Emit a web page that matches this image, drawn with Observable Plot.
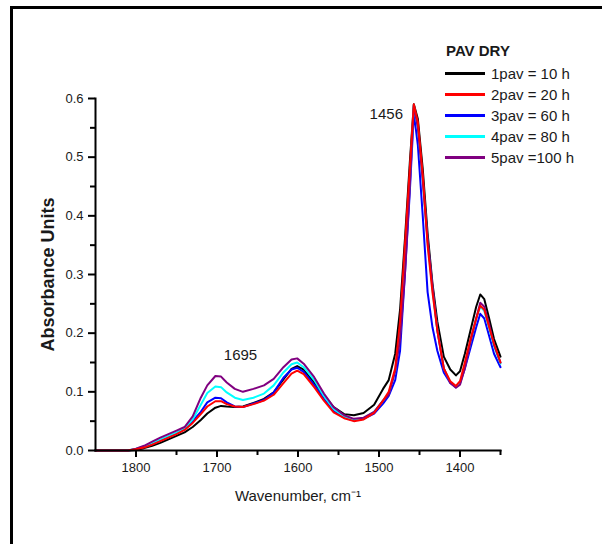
<!DOCTYPE html>
<html>
<head>
<meta charset="utf-8">
<script src="https://cdn.jsdelivr.net/npm/d3@7"></script>
<script src="https://cdn.jsdelivr.net/npm/@observablehq/plot@0.6"></script>
<style>
  html, body { margin: 0; padding: 0; background: #fff; }
  #wrap { position: relative; width: 602px; height: 544px; overflow: hidden; font-family: "Liberation Sans", Arial, sans-serif; color: #1a1a1a; }
  #border { position: absolute; left: 10px; top: 6px; width: 800px; height: 800px; border: 3px solid #000; box-sizing: border-box; pointer-events: none; }
  #chart { position: absolute; left: 0; top: 0; }
  #legend { position: absolute; left: 445px; top: 39px; font-size: 15px; }
  #legend .title { font-weight: bold; height: 24px; line-height: 24px; margin-left: 1px; }
  #legend .row { display: flex; align-items: center; height: 21px; }
  #legend .sw { width: 40px; height: 2.5px; margin-right: 6px; }
</style>
</head>
<body>
<div id="wrap">
  <div id="chart"></div>
  <div id="legend"></div>
  <div id="border"></div>
</div>
<script>
// ---- data ----
const wavenumbers = [1850, 1810, 1800, 1790, 1780, 1770, 1760, 1750, 1740, 1730, 1720, 1712, 1702, 1695, 1688, 1678, 1668, 1655, 1642, 1630, 1618, 1608, 1601, 1593, 1580, 1568, 1556, 1543, 1531, 1519, 1506, 1495, 1488, 1480, 1474, 1468, 1462, 1457, 1452, 1446, 1440, 1434, 1428, 1420, 1412, 1405, 1400, 1394, 1387, 1380, 1375, 1370, 1364, 1358, 1350];

const pav1 = [0, 0, 0.001, 0.004, 0.008, 0.013, 0.019, 0.025, 0.031, 0.040, 0.052, 0.063, 0.073, 0.076, 0.075, 0.074, 0.075, 0.081, 0.088, 0.099, 0.121, 0.139, 0.144, 0.138, 0.116, 0.094, 0.074, 0.062, 0.060, 0.064, 0.078, 0.105, 0.120, 0.165, 0.240, 0.360, 0.490, 0.590, 0.565, 0.480, 0.370, 0.285, 0.220, 0.160, 0.138, 0.128, 0.135, 0.165, 0.205, 0.245, 0.266, 0.258, 0.225, 0.190, 0.160];
const pav2 = [0, 0, 0.002, 0.005, 0.010, 0.016, 0.022, 0.028, 0.035, 0.047, 0.062, 0.075, 0.084, 0.084, 0.079, 0.075, 0.074, 0.079, 0.085, 0.095, 0.115, 0.131, 0.136, 0.130, 0.108, 0.085, 0.065, 0.055, 0.050, 0.053, 0.064, 0.085, 0.100, 0.140, 0.220, 0.350, 0.480, 0.590, 0.560, 0.470, 0.350, 0.270, 0.205, 0.140, 0.118, 0.110, 0.118, 0.150, 0.190, 0.225, 0.247, 0.240, 0.210, 0.182, 0.150];
const pav3 = [0, 0, 0.002, 0.006, 0.011, 0.017, 0.023, 0.029, 0.036, 0.050, 0.066, 0.082, 0.090, 0.089, 0.082, 0.075, 0.074, 0.080, 0.086, 0.099, 0.124, 0.138, 0.141, 0.134, 0.112, 0.088, 0.067, 0.056, 0.051, 0.054, 0.063, 0.080, 0.093, 0.120, 0.170, 0.300, 0.440, 0.575, 0.520, 0.400, 0.270, 0.210, 0.170, 0.133, 0.115, 0.108, 0.115, 0.140, 0.175, 0.210, 0.233, 0.225, 0.195, 0.165, 0.142];
const pav4 = [0, 0, 0.003, 0.007, 0.013, 0.019, 0.025, 0.031, 0.038, 0.053, 0.078, 0.098, 0.109, 0.108, 0.099, 0.090, 0.086, 0.090, 0.097, 0.111, 0.133, 0.147, 0.150, 0.142, 0.120, 0.093, 0.071, 0.058, 0.052, 0.055, 0.066, 0.085, 0.097, 0.135, 0.200, 0.320, 0.460, 0.588, 0.550, 0.460, 0.355, 0.275, 0.205, 0.140, 0.116, 0.108, 0.114, 0.145, 0.185, 0.225, 0.245, 0.238, 0.208, 0.178, 0.148];
const pav5 = [0, 0, 0.003, 0.008, 0.015, 0.022, 0.028, 0.034, 0.040, 0.058, 0.090, 0.111, 0.127, 0.126, 0.116, 0.105, 0.100, 0.105, 0.111, 0.122, 0.142, 0.155, 0.157, 0.148, 0.125, 0.097, 0.074, 0.060, 0.054, 0.056, 0.066, 0.085, 0.095, 0.135, 0.190, 0.300, 0.450, 0.588, 0.550, 0.460, 0.360, 0.280, 0.205, 0.140, 0.115, 0.107, 0.112, 0.140, 0.185, 0.225, 0.252, 0.245, 0.215, 0.180, 0.150];

const seriesNames = ["1pav = 10 h", "2pav = 20 h", "3pav = 60 h", "4pav = 80 h", "5pav =100 h"];
const seriesValues = [pav1, pav2, pav3, pav4, pav5];
const seriesColors = ["#000000", "#ff0000", "#0000ff", "#00ffff", "#800080"];
const drawOrder = [0, 2, 3, 4, 1];

const legendTitle = "PAV DRY";
const xMajorTicks = [1800, 1700, 1600, 1500, 1400];
const xMinorTicks = [1750, 1650, 1550, 1450, 1350];
const yMajorTicks = [0, 0.1, 0.2, 0.3, 0.4, 0.5, 0.6];
const yMinorTicks = [0.05, 0.15, 0.25, 0.35, 0.45, 0.55];
const xTitle = "Wavenumber, cm\u207B\u00B9";
const yTitle = "Absorbance Units";
const annotations = [
  {label: "1695", w: 1671, a: 0.163},
  {label: "1456", w: 1491, a: 0.574}
];

// ---- build rows ----
const rows = [];
for (const i of drawOrder) {
  wavenumbers.forEach((w, j) => rows.push({series: seriesNames[i], w, a: seriesValues[i][j]}));
}

const font = "'Liberation Sans', Arial, sans-serif";
const chart = Plot.plot({
  width: 602,
  height: 544,
  marginLeft: 95,
  marginRight: 102,
  marginTop: 98,
  marginBottom: 94,
  style: {fontFamily: font, background: "transparent", color: "#1a1a1a", overflow: "visible"},
  x: {domain: [1850, 1350]},
  y: {domain: [0, 0.6]},
  color: {domain: seriesNames, range: seriesColors},
  marks: [
    Plot.line(rows, {x: "w", y: "a", z: "series", stroke: "series", strokeWidth: 2}),
    Plot.frame({anchor: "bottom", stroke: "#000", strokeWidth: 2}),
    Plot.frame({anchor: "left", stroke: "#000", strokeWidth: 2}),
    Plot.axisX(xMajorTicks, {tickSize: 7, tickPadding: 5, fontSize: 13, strokeWidth: 2, stroke: "#000", strokeOpacity: 1, tickFormat: d => String(d), label: null}),
    Plot.axisX(xMinorTicks, {tickSize: 5, tickFormat: () => "", strokeWidth: 2, stroke: "#000", strokeOpacity: 1, label: null}),
    Plot.axisY(yMajorTicks, {tickSize: 7, tickPadding: 5, fontSize: 13, strokeWidth: 2, stroke: "#000", strokeOpacity: 1, tickFormat: d3.format(".1f"), label: null}),
    Plot.axisY(yMinorTicks, {tickSize: 5, tickFormat: () => "", strokeWidth: 2, stroke: "#000", strokeOpacity: 1, label: null}),
    Plot.text([xTitle], {frameAnchor: "bottom", dy: 50, fontSize: 15, fill: "#1a1a1a", textAnchor: "middle"}),
    Plot.text([yTitle], {frameAnchor: "left", dx: -47, rotate: -90, fontSize: 18, fontWeight: "bold", fill: "#1a1a1a", textAnchor: "middle"}),
    Plot.text(annotations, {x: "w", y: "a", text: "label", fontSize: 15, fill: "#1a1a1a", textAnchor: "middle"})
  ]
});
document.getElementById("chart").appendChild(chart);

// ---- legend ----
const legend = document.getElementById("legend");
const t = document.createElement("div");
t.className = "title";
t.textContent = legendTitle;
legend.appendChild(t);
seriesNames.forEach((name, i) => {
  const r = document.createElement("div");
  r.className = "row";
  const sw = document.createElement("div");
  sw.className = "sw";
  sw.style.background = seriesColors[i];
  const lab = document.createElement("span");
  lab.textContent = name;
  r.appendChild(sw);
  r.appendChild(lab);
  legend.appendChild(r);
});
</script>
</body>
</html>
